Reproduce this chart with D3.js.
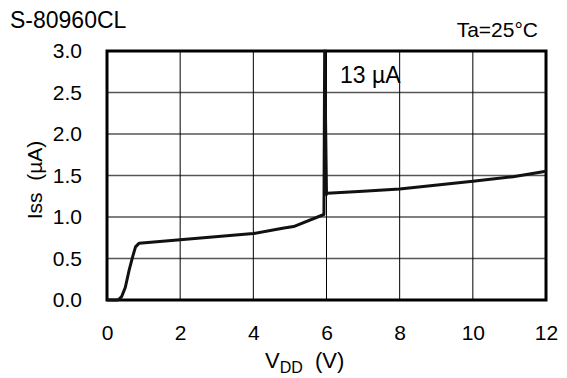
<!DOCTYPE html>
<html><head><meta charset="utf-8">
<script src="https://cdn.jsdelivr.net/npm/d3@7"></script>
<style>body{margin:0;background:#fff}svg{display:block;font-family:"Liberation Sans",Arial,sans-serif}</style>
</head><body>
<script>
const xTicks = [0, 2, 4, 6, 8, 10, 12];
const yTicks = [0.0, 0.5, 1.0, 1.5, 2.0, 2.5, 3.0];
const vdd = [0, 0.3, 0.4, 0.5, 0.6, 0.7, 0.78, 0.88, 2, 4, 4.8, 5.1, 5.93, 5.95, 6.0, 6.02, 7, 8, 10, 11.1, 12];
const iss = [0, 0, 0.04, 0.15, 0.35, 0.52, 0.64, 0.685, 0.725, 0.80, 0.865, 0.885, 1.03, 3.0, 1.27, 1.285, 1.31, 1.337, 1.43, 1.486, 1.55];

const W = 567, H = 378;
const FF = "Liberation Sans, Arial, sans-serif";
const svg = d3.select("body").append("svg").attr("width", W).attr("height", H);
const x = d3.scaleLinear().domain([0, 12]).range([107, 546]);
const y = d3.scaleLinear().domain([0, 3]).range([300, 51]);

// gridlines
svg.append("g").selectAll("line").data(yTicks.slice(1, -1)).join("line")
  .attr("x1", x(0)).attr("x2", x(12)).attr("y1", d => y(d)).attr("y2", d => y(d))
  .attr("stroke", "#555").attr("stroke-width", 1.5);
svg.append("g").selectAll("line").data(xTicks.slice(1, -1)).join("line")
  .attr("y1", y(0)).attr("y2", y(3)).attr("x1", d => x(d)).attr("x2", d => x(d))
  .attr("stroke", "#000").attr("stroke-width", 1);

// axes labels via d3 axes (no lines)
const ax = svg.append("g").attr("transform", `translate(0,${y(0)})`)
  .call(d3.axisBottom(x).tickValues(xTicks).tickSize(0).tickPadding(25).tickFormat(d3.format("d")));
ax.select(".domain").remove();
ax.selectAll("text").attr("font-size", 21).attr("font-family", FF).attr("fill", "#000");
const ay = svg.append("g").attr("transform", `translate(${x(0)},0)`)
  .call(d3.axisLeft(y).tickValues(yTicks).tickSize(0).tickPadding(25).tickFormat(d3.format(".1f")));
ay.select(".domain").remove();
ay.selectAll("text").attr("font-size", 21).attr("font-family", FF).attr("fill", "#000");

// frame
svg.append("rect").attr("x", x(0)).attr("y", y(3)).attr("width", x(12) - x(0)).attr("height", y(0) - y(3))
  .attr("fill", "none").attr("stroke", "#000").attr("stroke-width", 3);

// curve
const pts = vdd.map((v, i) => [v, iss[i]]);
svg.append("path").datum(pts)
  .attr("d", d3.line().x(d => x(d[0])).y(d => y(d[1])))
  .attr("fill", "none").attr("stroke", "#111").attr("stroke-width", 3).attr("stroke-linejoin", "round");

// texts
svg.append("text").attr("x", 10).attr("y", 28).attr("font-size", 23).text("S-80960CL");
svg.append("text").attr("x", 538).attr("y", 37).attr("font-size", 21).attr("text-anchor", "end").text("Ta=25°C");
svg.append("text").attr("x", 340).attr("y", 83).attr("font-size", 23).text("13 µA");
const xl = svg.append("text").attr("x", 265).attr("y", 368).attr("font-size", 22);
xl.append("tspan").text("V");
xl.append("tspan").attr("font-size", 16).attr("dy", 5).text("DD");
xl.append("tspan").attr("dy", -5).text("\u00a0\u00a0(V)");
svg.append("text").attr("transform", "translate(42,180) rotate(-90)").attr("font-size", 21)
  .attr("text-anchor", "middle").text("Iss\u00a0\u00a0(µA)");
</script>
</body></html>
